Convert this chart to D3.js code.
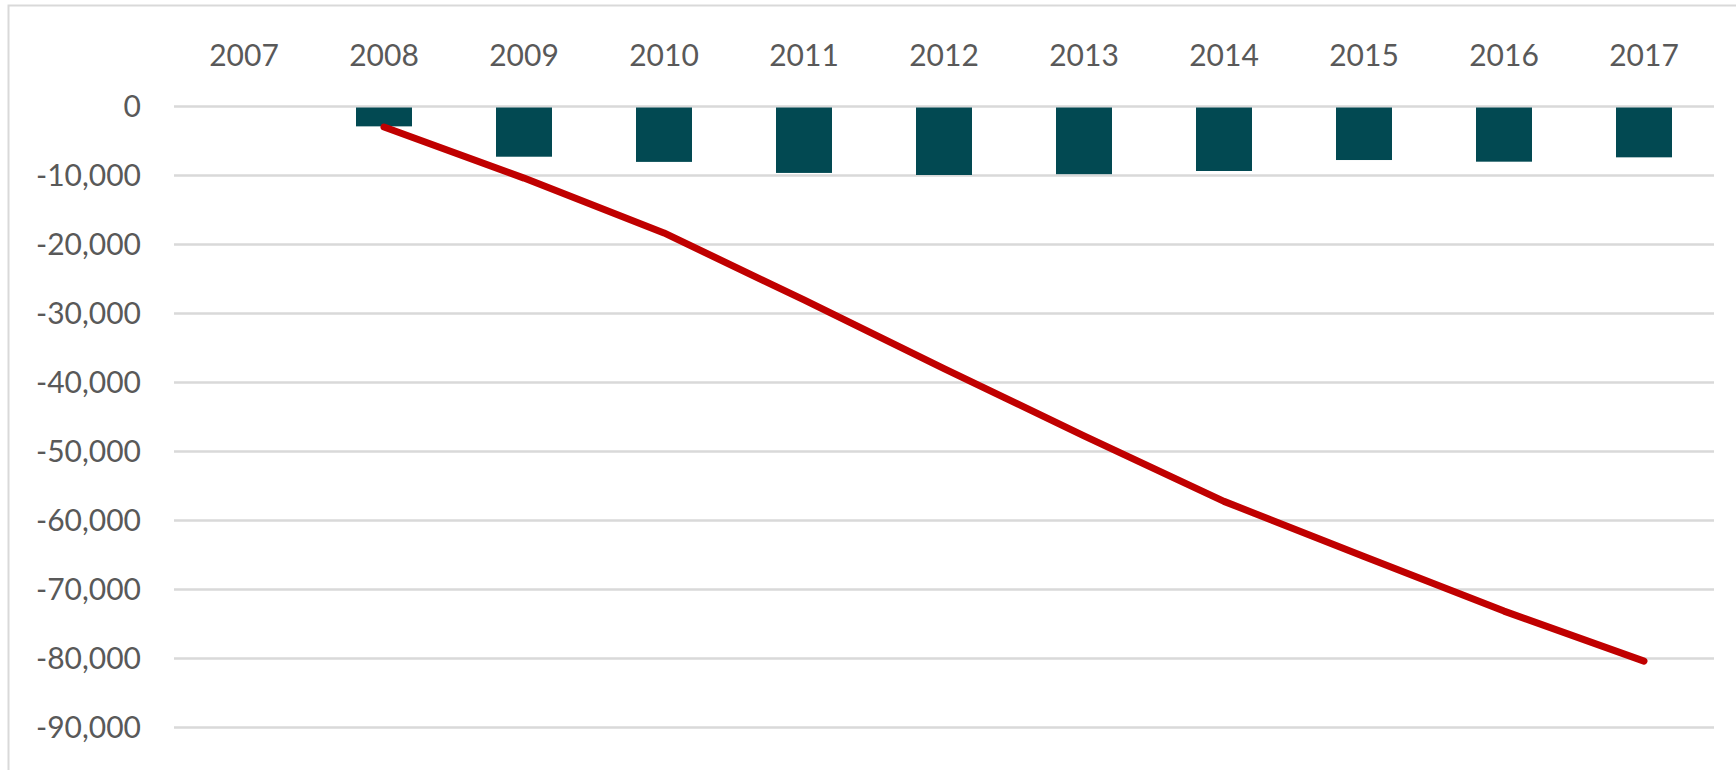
<!DOCTYPE html>
<meta charset="utf-8">
<head>
  <style>
    body { margin: 0; background: white; }
    text { font-family: Lato, "Noto Sans", sans-serif; fill: #595959; }
  </style>
  <script src="https://cdn.jsdelivr.net/npm/d3@7"></script>
</head>
<body>
<script>
  // categories along the top axis
  var years = ["2007", "2008", "2009", "2010", "2011", "2012", "2013", "2014", "2015", "2016", "2017"];
  // yearly change (bars), 2007 has none
  var yearly = [null, -2950, -7350, -8100, -9700, -10000, -9880, -9420, -7830, -8070, -7440];
  // running total (red line), 2007 has none
  var total = [null, -3050, -10450, -18400, -28100, -38050, -47800, -57300, -65300, -73200, -80450];
  // y tick labels
  var yTicks = [0, -10000, -20000, -30000, -40000, -50000, -60000, -70000, -80000, -90000];

  const svg = d3.create("svg:svg")
    .attr("width", 1736)
    .attr("height", 770)
    ;
  d3.select("body").append(() => svg.node());

  // chart frame, right and bottom edges fall outside the picture
  svg.append("rect")
    .attr("x", 8.5).attr("y", 5.5)
    .attr("width", 1800).attr("height", 900)
    .attr("fill", "white")
    .attr("stroke", "#d9d9d9")
    .attr("stroke-width", 2)
    ;

  const x = d3.scaleBand()
    .domain(years)
    .range([174, 1714])
    .paddingInner(0.6)
    .paddingOuter(0.3)
    ;
  const y = d3.scaleLinear()
    .domain([0, -90000])
    .range([106, 727])
    ;
  const fmt = d3.format(",");

  // gridlines + y labels
  const yAxis = d3.axisLeft(y)
    .tickValues(yTicks)
    .tickSize(-(1714 - 174))
    .tickPadding(33)
    .tickFormat(d => fmt(d).replace("−", "-"))
    ;
  svg.append("g")
    .attr("transform", "translate(174,0)")
    .call(yAxis)
    .call(g => g.select(".domain").remove())
    .call(g => g.selectAll(".tick line").attr("stroke", "#d9d9d9").attr("stroke-width", 2.5))
    .call(g => g.selectAll(".tick text")
      .attr("font-size", 30)
      .attr("dy", "0.35em")
      .style("fill", "#595959"))
    ;

  // year labels on top
  const xAxis = d3.axisTop(x).tickSize(0).tickPadding(0);
  svg.append("g")
    .attr("transform", "translate(0,66)")
    .call(xAxis)
    .call(g => g.select(".domain").remove())
    .call(g => g.selectAll(".tick text")
      .attr("font-size", 30)
      .attr("dy", 0)
      .style("fill", "#595959"))
    ;

  // bars
  svg.append("g")
    .selectAll("rect")
    .data(years.map((d, i) => ({year: d, v: yearly[i]})).filter(d => d.v != null))
    .enter().append("rect")
      .attr("x", d => x(d.year))
      .attr("width", x.bandwidth())
      .attr("y", y(0) + 1.5)
      .attr("height", d => y(d.v) - y(0) - 1.5)
      .attr("fill", "#024952")
    ;

  // cumulative line
  const line = d3.line()
    .defined(d => d.v != null)
    .x(d => x(d.year) + x.bandwidth() / 2)
    .y(d => y(d.v))
    ;
  svg.append("path")
    .attr("d", line(years.map((d, i) => ({year: d, v: total[i]}))))
    .attr("fill", "none")
    .attr("stroke", "#c00000")
    .attr("stroke-width", 7)
    .attr("stroke-linecap", "round")
    .attr("stroke-linejoin", "round")
    ;
</script>
</body>
</html>
